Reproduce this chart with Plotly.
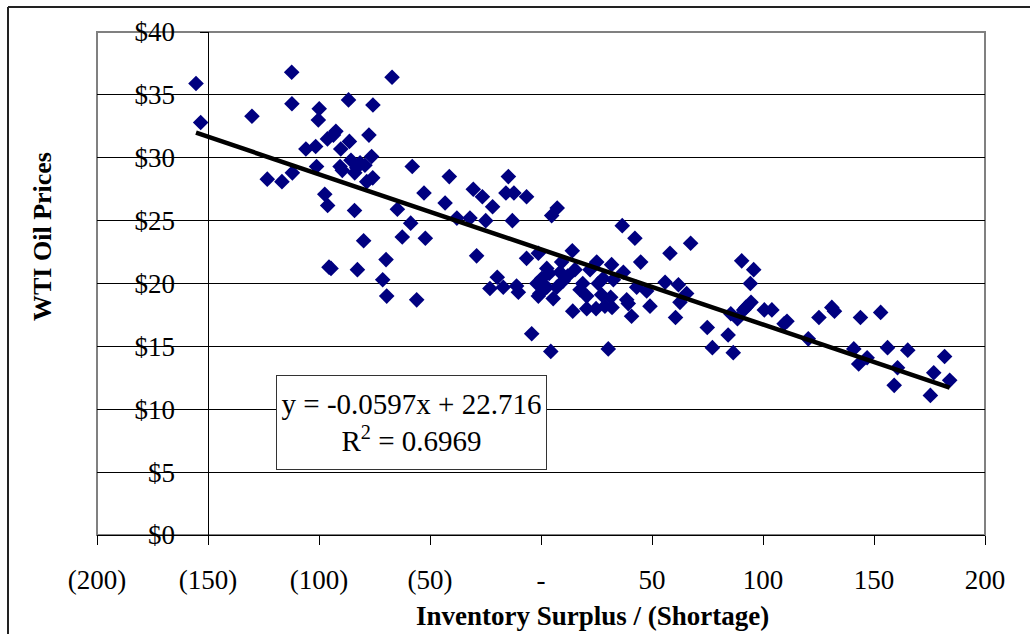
import plotly.graph_objects as go

# ---- data ----
surplus = [
    -155.4, -153.3, -130.2, -112.3, -112.2, -123.3, -116.7, -112.0, -105.9, -101.5,
    -101.1, -99.9, -100.3, -97.4, -96.1, -95.5, -94.6, -96.2, -92.4, -93.5,
    -90.2, -86.7, -86.3, -90.5, -89.5, -85.6, -84.0, -83.9, -83.0, -81.5,
    -79.3, -77.5, -76.3, -75.7, -78.5, -75.8, -79.9, -82.7, -67.1, -64.7,
    -69.8, -71.3, -69.5, -62.5, -58.7, -58.0, -52.7, -52.1, -56.0, -43.2,
    -41.3,
    -37.9, -32.0, -30.5, -26.4, -21.8, -24.9, -29.0, -14.7, -15.8, -12.2,
    -6.5, -12.9, 4.8, 7.3, -19.7, -23.0, -17.0, -11.0, -10.2, -6.5,
    -1.2, -1.9, -1.2, 2.6, 3.7, 5.5, 7.1, 10.0, -4.2, 4.4,
    14.1, 9.3, 15.3, 14.3, 18.8, 17.6, 20.6, 25.1, 24.8, 25.8,
    27.3, 31.8, 30.3, 32.0, 32.6, 31.4, 36.6, 42.3, 37.1, 39.3,
    40.8, 44.9, 43.1, 47.6, 49.1, 58.1, 67.4, 55.9, 61.9, 65.6,
    62.6, 60.6, 22.1, 8.6, 2.6, 0.3, -0.5, 20.6, 28.8, 38.6,
    12.0, 28.0,
    74.9, 77.2, 84.3, 86.6, 85.5, 88.5, 90.4, 95.8, 94.3, 91.3,
    94.6, 92.3, 100.6, 104.0, 110.8, 109.5, 120.4, 125.2, 131.0, 132.2,
    140.9, 143.1, 146.9, 143.9, 153.0, 156.1, 159.1, 160.6, 165.2, 175.4,
    176.9, 181.8, 184.1,
]
wti_price = [
    35.9, 32.8, 33.3, 36.8, 34.3, 28.3, 28.1, 28.8, 30.7, 30.9,
    29.3, 33.9, 33.0, 27.1, 26.2, 21.3, 21.2, 31.5, 32.1, 31.8,
    30.7, 34.6, 31.3, 29.3, 29.0, 29.8, 25.8, 28.8, 29.2, 29.6,
    29.4, 31.8, 30.1, 34.2, 28.1, 28.4, 23.4, 21.1, 36.4, 25.9,
    21.9, 20.3, 19.0, 23.7, 24.8, 29.3, 27.2, 23.6, 18.7, 26.4,
    28.5,
    25.2, 25.2, 27.5, 26.9, 26.1, 25.0, 22.2, 28.5, 27.2, 27.2,
    26.9, 25.0, 25.4, 26.0, 20.5, 19.6, 19.7, 19.8, 19.3, 22.0,
    22.4, 20.0, 19.0, 21.2, 20.8, 18.8, 19.7, 20.2, 16.0, 14.6,
    22.6, 21.7, 21.1, 17.8, 20.0, 19.5, 19.0, 21.7, 18.0, 20.0,
    19.1, 21.5, 14.8, 18.1, 20.3, 18.9, 24.6, 23.6, 20.9, 18.4,
    17.4, 21.7, 19.7, 19.4, 18.2, 22.4, 23.2, 20.1, 19.9, 19.2,
    18.5, 17.3, 21.1, 20.9, 19.7, 20.4, 19.2, 18.0, 18.2, 18.7,
    20.6, 20.4,
    16.5, 14.9, 15.9, 14.5, 17.6, 17.2, 21.8, 21.1, 20.0, 17.9,
    18.5, 18.1, 17.9, 17.9, 17.0, 16.8, 15.6, 17.3, 18.1, 17.8,
    14.8, 13.6, 14.1, 17.3, 17.7, 14.9, 11.9, 13.3, 14.7, 11.1,
    12.9, 14.2, 12.3,
]

# trend line parameters shown on the chart
trend_slope = -0.0597
trend_intercept = 22.716
trend_r2 = 0.6969

x_tick_values = [-200, -150, -100, -50, 0, 50, 100, 150, 200]
x_tick_labels = ["(200)", "(150)", "(100)", "(50)", "-", "50", "100", "150", "200"]
y_tick_values = [0, 5, 10, 15, 20, 25, 30, 35, 40]
y_tick_labels = ["$0", "$5", "$10", "$15", "$20", "$25", "$30", "$35", "$40"]

x_title = "Inventory Surplus / (Shortage)"
y_title = "WTI Oil Prices"

# ---- figure ----
FONT = "Liberation Serif, Times New Roman, serif"
W, H = 1030, 634
L, R, T, B = 97, 45, 32, 99
PW, PH = W - L - R, H - T - B


def px_to_paper_x(px):
    return (px - L) / PW


def px_to_paper_y(py):
    return (H - B - py) / PH


trend_x = [min(surplus), max(surplus)]
trend_y = [trend_slope * v + trend_intercept for v in trend_x]

fig = go.Figure()
# empty helper trace so the tick-label axis (y2) is drawn
fig.add_trace(go.Scatter(x=[None], y=[None], yaxis="y2", mode="markers",
                         showlegend=False, hoverinfo="skip"))
fig.add_trace(go.Scatter(
    x=surplus, y=wti_price, mode="markers",
    marker=dict(symbol="diamond", size=12, color="#000080", line=dict(width=0)),
    showlegend=False, cliponaxis=False,
))
fig.add_trace(go.Scatter(
    x=trend_x, y=trend_y, mode="lines",
    line=dict(color="black", width=4.5),
    showlegend=False,
))

tick_font = dict(family=FONT, size=27, color="black")

fig.update_layout(
    width=W, height=H,
    margin=dict(l=L, r=R, t=T, b=B),
    paper_bgcolor="white", plot_bgcolor="white",
    font=dict(family=FONT, size=26, color="black"),
    xaxis=dict(
        range=[-200, 200], tickmode="array", tickvals=x_tick_values, ticktext=x_tick_labels,
        showgrid=False, zeroline=False, showline=True, linecolor="black", linewidth=1,
        ticks="outside", ticklen=9, tickcolor="black", tickwidth=1,
        ticklabelstandoff=12, tickfont=tick_font,
        fixedrange=True,
    ),
    # axis line + ticks, crossing the x axis at -150
    yaxis=dict(
        range=[0, 40], tickmode="array", tickvals=y_tick_values,
        showgrid=True, gridcolor="black", gridwidth=1, zeroline=False,
        anchor="free", position=0.125,
        showline=True, linecolor="black", linewidth=1,
        ticks="outside", ticklen=8, tickcolor="black", tickwidth=1,
        showticklabels=False,
        fixedrange=True,
    ),
    # tick labels of the same axis, set a little further left
    yaxis2=dict(
        range=[0, 40], tickmode="array", tickvals=y_tick_values, ticktext=y_tick_labels,
        overlaying="y", anchor="free", position=px_to_paper_x(175), side="left",
        showgrid=False, zeroline=False, showline=False, ticks="",
        tickfont=tick_font, fixedrange=True,
    ),
    shapes=[
        # plot-area border (grey)
        dict(type="rect", xref="x domain", yref="y domain", x0=0, x1=1, y0=0, y1=1,
             line=dict(color="#808080", width=2), layer="below"),
        # chart-area border (left and top edges are inside the picture)
        dict(type="line", xref="paper", yref="paper",
             x0=px_to_paper_x(8), x1=px_to_paper_x(8),
             y0=px_to_paper_y(634), y1=px_to_paper_y(7),
             line=dict(color="#222222", width=2), layer="below"),
        dict(type="line", xref="paper", yref="paper",
             x0=px_to_paper_x(8), x1=px_to_paper_x(1030),
             y0=px_to_paper_y(7), y1=px_to_paper_y(7),
             line=dict(color="#222222", width=2), layer="below"),
    ],
    annotations=[
        dict(text=f"<b>{y_title}</b>", xref="paper", yref="paper",
             x=px_to_paper_x(42), y=px_to_paper_y(237), textangle=-90,
             showarrow=False, xanchor="center", yanchor="middle",
             font=dict(family=FONT, size=26, color="black")),
        dict(text=f"<b>{x_title}</b>", xref="paper", yref="paper",
             x=px_to_paper_x(592), y=px_to_paper_y(616),
             showarrow=False, xanchor="center", yanchor="middle",
             font=dict(family=FONT, size=27, color="black")),
        dict(text=f"y = {trend_slope}x + {trend_intercept}<br>R<sup>2</sup> = {trend_r2}",
             xref="paper", yref="paper",
             x=px_to_paper_x(411.5), y=px_to_paper_y(422.5),
             showarrow=False, xanchor="center", yanchor="middle", align="center",
             width=265, height=89, borderpad=2, borderwidth=1, bordercolor="#333333",
             bgcolor="white", font=dict(family=FONT, size=29, color="black")),
    ],
)

fig.write_html("out.html", config={"displayModeBar": False},
               post_script="document.body.style.margin='0';")
